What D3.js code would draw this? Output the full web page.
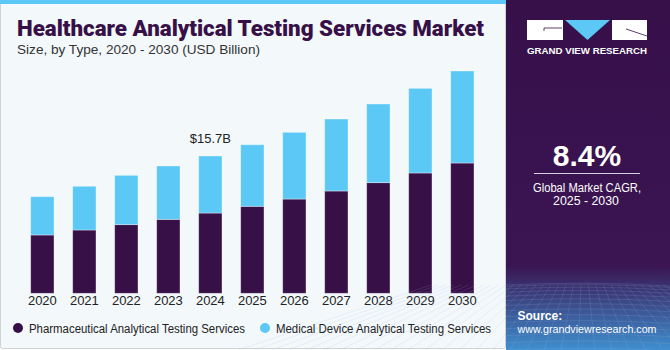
<!DOCTYPE html>
<html><head><meta charset="utf-8">
<script src="https://cdn.jsdelivr.net/npm/d3@7"></script>
<style>
html,body{margin:0;padding:0;background:#fff;}
svg{display:block;}
text{font-family:"Liberation Sans",Arial,sans-serif;}
</style></head>
<body>
<svg id="chart" width="670" height="350"></svg>
<script>
const years = ["2020","2021","2022","2023","2024","2025","2026","2027","2028","2029","2030"];
const pharma = [6.67,7.24,7.85,8.46,9.18,9.95,10.78,11.70,12.65,13.76,14.90];
const medical = [4.38,5.00,5.64,6.10,6.52,7.04,7.63,8.23,9.00,9.68,10.52];
const seriesNames = ["Pharmaceutical Analytical Testing Services","Medical Device Analytical Testing Services"];
const seriesColors = ["#371047","#5bc8f5"];
const annotation = {year:"2024", label:"$15.7B"};

const svg = d3.select("#chart");

// left panel
svg.append("rect").attr("x",0.5).attr("y",0.5).attr("width",505).attr("height",348)
  .attr("fill","#f3f8fb").attr("stroke","#cfd3d6").attr("rx",2);
svg.append("rect").attr("x",0).attr("y",0).attr("width",506).attr("height",4).attr("fill","#5bc8f5");

// title
svg.append("text").attr("x",17).attr("y",36).attr("fill","#371047")
  .style("font-family","Roboto, 'Liberation Sans', sans-serif").style("font-weight",900)
  .style("font-size","21.5px").attr("textLength",467).attr("lengthAdjust","spacingAndGlyphs")
  .text("Healthcare Analytical Testing Services Market");
svg.append("text").attr("x",17).attr("y",54).attr("fill","#333")
  .style("font-size","13.5px").attr("textLength",243).attr("lengthAdjust","spacingAndGlyphs")
  .text("Size, by Type, 2020 - 2030 (USD Billion)");

// scales
const x = d3.scaleBand().domain(years).range([21.35,483.35]).paddingInner(0.445).paddingOuter(0.2225);
const y = d3.scaleLinear().domain([0,30]).range([293.3,30.95]);

const data = years.map((yr,i)=>({year:yr, pharma:pharma[i], medical:medical[i]}));
const stack = d3.stack().keys(["pharma","medical"])(data);

const g = svg.append("g");
stack.forEach((layer,li)=>{
  g.selectAll(".b"+li).data(layer).enter().append("rect")
    .attr("x",d=>x(d.data.year))
    .attr("width",x.bandwidth())
    .attr("y",d=>y(d[1]))
    .attr("height",d=>y(d[0])-y(d[1]))
    .attr("fill",seriesColors[li])
    .attr("stroke","rgba(255,255,255,0.45)").attr("stroke-width",0.8);
});

// x axis labels
const xAxis = d3.axisBottom(x).tickSize(0).tickPadding(0);
const ax = svg.append("g").attr("transform","translate(0,296)").call(xAxis);
ax.select(".domain").remove();
ax.selectAll("text").attr("dy","0.71em").style("font-size","13px").attr("fill","#222")
  .style("font-family","'Liberation Sans',Arial,sans-serif");

// annotation
const ai = years.indexOf(annotation.year);
svg.append("text").attr("x",x(annotation.year)+x.bandwidth()/2).attr("y",y(pharma[ai]+medical[ai])-13)
  .attr("text-anchor","middle").attr("fill","#222").style("font-size","13px").text(annotation.label);

// legend
const lg = svg.append("g");
const legX = [18,265];
const legW = [216,215];
seriesNames.forEach((n,i)=>{
  lg.append("circle").attr("cx",legX[i]).attr("cy",328).attr("r",5).attr("fill",seriesColors[i]);
  lg.append("text").attr("x",legX[i]+11).attr("y",332.5).attr("fill","#222")
    .style("font-size","12.5px").attr("textLength",legW[i]).attr("lengthAdjust","spacingAndGlyphs").text(n);
});

// right panel
const defs = svg.append("defs");
const grad = defs.append("linearGradient").attr("id","rg").attr("x1",0).attr("y1",0).attr("x2",0).attr("y2",1);
grad.append("stop").attr("offset","0").attr("stop-color","#37104a");
grad.append("stop").attr("offset","0.76").attr("stop-color","#3a1552");
grad.append("stop").attr("offset","0.84").attr("stop-color","#3b3d7a");
grad.append("stop").attr("offset","1").attr("stop-color","#3f8fcf");
svg.append("rect").attr("x",506).attr("y",0).attr("width",164).attr("height",350).attr("fill","url(#rg)");

// grid texture
const grid = svg.append("g").attr("stroke","#9fb8e6").attr("stroke-opacity",0.28).attr("stroke-width",0.6).attr("fill","none");
for(let k=0;k<14;k++){
  const yy = 285 + Math.pow(k/13,1.5)*65;
  grid.append("path").attr("d",`M506,${yy} Q588,${yy-4} 670,${yy+1}`);
}
for(let k=-10;k<=24;k++){
  const xt = 506 + k*7.5, xb = 506 + (k-7)*14 ;
  grid.append("line").attr("x1",xt).attr("y1",285).attr("x2",xb+ (k*3)).attr("y2",350);
}

// logo
const logo = svg.append("g");
logo.append("rect").attr("x",527).attr("y",20).attr("width",36).attr("height",20).attr("fill","#fff");
logo.append("path").attr("d","M565,20 L610,20 L587.5,40 Z").attr("fill","#5bc8f5");
logo.append("rect").attr("x",612).attr("y",20).attr("width",35).attr("height",20).attr("fill","#fff");
logo.append("path").attr("d","M544,31 L544,28 L562,28").attr("stroke","#37104a").attr("stroke-width",0.8).attr("fill","none");
logo.append("path").attr("d","M626,29 L647,36").attr("stroke","#37104a").attr("stroke-width",0.8).attr("fill","none");
svg.append("text").attr("x",527).attr("y",53.5).attr("fill","#fff")
  .style("font-weight","bold").style("font-size","9.5px").attr("textLength",120).attr("lengthAdjust","spacingAndGlyphs")
  .text("GRAND VIEW RESEARCH");

svg.append("text").attr("x",587).attr("y",166).attr("text-anchor","middle").attr("fill","#fff")
  .style("font-weight","bold").style("font-size","30px").text("8.4%");
svg.append("line").attr("x1",534).attr("x2",640).attr("y1",173.5).attr("y2",173.5).attr("stroke","#d8d0e0").attr("stroke-width",1);
svg.append("text").attr("x",533).attr("y",191.5).attr("fill","#fff")
  .style("font-size","12.5px").attr("textLength",108).attr("lengthAdjust","spacingAndGlyphs").text("Global Market CAGR,");
svg.append("text").attr("x",553).attr("y",205).attr("fill","#fff")
  .style("font-size","12.5px").attr("textLength",66).attr("lengthAdjust","spacingAndGlyphs").text("2025 - 2030");

svg.append("text").attr("x",517.5).attr("y",319.5).attr("fill","#fff")
  .style("font-weight","bold").style("font-size","12px").text("Source:");
svg.append("text").attr("x",517.5).attr("y",333).attr("fill","#fff")
  .style("font-size","11.5px").attr("textLength",139).attr("lengthAdjust","spacingAndGlyphs").text("www.grandviewresearch.com");
</script>
</body></html>
